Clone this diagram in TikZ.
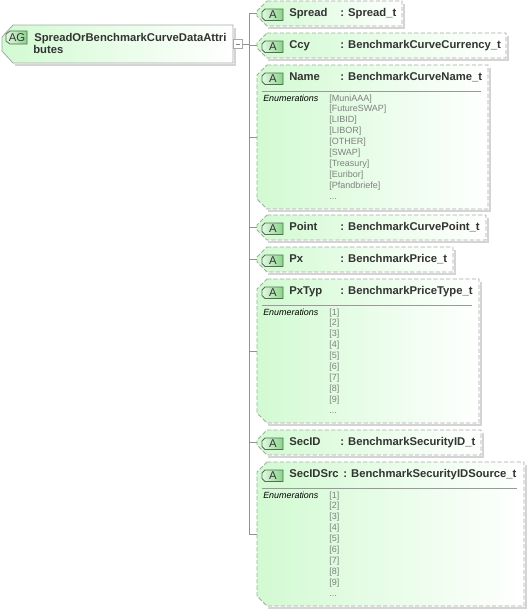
\documentclass[tikz,border=0pt]{standalone}
\usepackage{fontspec}
\setmainfont{Liberation Sans}
\usetikzlibrary{fit}
\definecolor{fillgreen}{HTML}{D2FAD2}
\definecolor{midgreen}{HTML}{F0FDF0}
\definecolor{edgegray}{HTML}{A8A8A8}
\definecolor{shadowgray}{HTML}{D4D4D4}
\definecolor{textdark}{HTML}{333333}
\definecolor{enumgray}{HTML}{808080}
\definecolor{badgeedge}{HTML}{4F6F4F}
\definecolor{badgeleft}{HTML}{E4F8E4}
\definecolor{badgeright}{HTML}{88D488}
\tikzset{
  x=0.75pt,y=-0.75pt,
  hook/.style={inner sep=0pt,outer sep=0pt,fit={#1}},
  wire/.style={draw=gray!85,line width=0.6pt},
  boxfill/.style={left color=fillgreen,middle color=midgreen,right color=white},
  badgefill/.style={left color=badgeleft,right color=badgeright,draw=badgeedge,line width=0.6pt},
  titletext/.style={anchor=base west,inner sep=0pt,font=\fontsize{8.45}{10}\selectfont\bfseries,text=textdark},
  enumheadtext/.style={anchor=base west,inner sep=0pt,font=\fontsize{6.7}{8}\selectfont\itshape,text=black},
  enumval/.style={anchor=base west,inner sep=0pt,font=\fontsize{6.75}{8}\selectfont,text=enumgray},
  badgetext/.style={anchor=center,inner sep=0pt,font=\fontsize{8.5}{10}\selectfont,text=textdark},
}
% #1 name, #2 x1, #3 y1, #4 x2, #5 y2, #6 label, #7 type, #8 type x
\newcommand{\attrbox}[8]{%
  \node[hook={(#2,#3)(#4,#5)}] (#1) {};
  \draw[shadowgray,line width=0.9pt] (#4+2,#3+3) -- (#4+2,#5+2) -- (#2+11,#5+2);
  \path[boxfill]
    (#2+10,#3) -- (#4,#3) -- (#4,#5) -- (#2+10,#5) -- (#2,#5-10) -- (#2,#3+10) -- cycle;
  \draw[edgegray,dash pattern=on 3.2pt off 1.6pt,line width=0.65pt]
    (#2+10,#3) -- (#4,#3) -- (#4,#5) -- (#2+10,#5) -- (#2,#5-10) -- (#2,#3+10) -- cycle;
  \path[badgefill]
    (#2+8,#3+8) -- (#2+26,#3+8) -- (#2+26,#3+19.5) -- (#2+8,#3+19.5) -- (#2+5,#3+16.5) -- (#2+5,#3+11) -- cycle;
  \node[badgetext] (#1-badge) at (#2+16,#3+13.7) {A};
  \node[titletext] (#1-label) at (#2+32,#3+15.7) {#6};
  \node[titletext] (#1-type) at (#8,#3+15.7) {: #7};
}
% #1 name, #2 x1, #3 x2, #4 top y
\newcommand{\enumblock}[4]{%
  \draw[gray!80,line width=0.6pt] (#2+5,#4+26) -- (#3-7,#4+26);
  \node[enumheadtext] (#1-enum) at (#2+6,#4+36) {Enumerations};
}
\begin{document}
\begin{tikzpicture}
\useasboundingbox (0,0) rectangle (528,611);
\path[fill=white] (0,0) rectangle (528,611);
% root
\node[hook={(2,25)(233,63)}] (root) {};
\draw[shadowgray,line width=2pt] (235,28) -- (235,65) -- (15,65);
\path[boxfill,draw=edgegray,line width=0.6pt]
  (13,25) -- (233,25) -- (233,63) -- (13,63) -- (2,51) -- (2,37) -- cycle;
\path[badgefill]
  (10,31) -- (27,31) -- (27,44) -- (10,44) -- (6,41) -- (6,34) -- cycle;
\node[badgetext] (root-badge) at (17,38) {AG};
\node[titletext] (root-l1) at (34,41) {SpreadOrBenchmarkCurveDataAttri};
\node[titletext] (root-l2) at (33,53) {butes};
\node[draw=edgegray,fill=white,inner sep=0pt,minimum width=6.4pt,minimum height=6.2pt,line width=0.6pt] (minus) at (238,44) {};
\draw[gray,line width=0.5pt] (236,44) -- (240,44);
% attribute boxes
\attrbox{spread}{257}{1}{402}{26}{Spread}{Spread\_t}{340}
\attrbox{ccy}{257}{33}{506}{58}{Ccy}{BenchmarkCurveCurrency\_t}{340}
\attrbox{name}{257}{65}{488}{209}{Name}{BenchmarkCurveName\_t}{340}
\attrbox{point}{257}{215}{486}{240}{Point}{BenchmarkCurvePoint\_t}{340}
\attrbox{px}{257}{247}{453}{272}{Px}{BenchmarkPrice\_t}{340}
\attrbox{pxtyp}{257}{279}{479}{423}{PxTyp}{BenchmarkPriceType\_t}{340}
\attrbox{secid}{257}{430}{481}{455}{SecID}{BenchmarkSecurityID\_t}{340}
\attrbox{secidsrc}{257}{462}{524}{606}{SecIDSrc}{BenchmarkSecurityIDSource\_t}{343}
% enumerations
\enumblock{name}{257}{488}{65}
\foreach \enumtxt [count=\i from 0] in {[MuniAAA],[FutureSWAP],[LIBID],[LIBOR],[OTHER],[SWAP],[Treasury],[Euribor],[Pfandbriefe]}
  \node[enumval] (name-v\i) at (329,101+10.95*\i) {\enumtxt};
\node[enumval] (name-more) at (329,199.5) {...};
\enumblock{pxtyp}{257}{479}{279}
\foreach \enumtxt [count=\i from 0] in {[1],[2],[3],[4],[5],[6],[7],[8],[9]}
  \node[enumval] (pxtyp-v\i) at (329,315+10.95*\i) {\enumtxt};
\node[enumval] (pxtyp-more) at (329,413.5) {...};
\enumblock{src}{257}{524}{462}
\foreach \enumtxt [count=\i from 0] in {[1],[2],[3],[4],[5],[6],[7],[8],[9]}
  \node[enumval] (src-v\i) at (329,498+10.95*\i) {\enumtxt};
\node[enumval] (src-more) at (329,596.5) {...};
% connectors
\coordinate (hub) at (249,44);
\draw[wire] (minus.east) -- (hub);
\draw[wire] (hub) |- (spread.west);
\draw[wire] (hub) |- (ccy.west);
\draw[wire] (hub) |- (name.west);
\draw[wire] (hub) |- (point.west);
\draw[wire] (hub) |- (px.west);
\draw[wire] (hub) |- (pxtyp.west);
\draw[wire] (hub) |- (secid.west);
\draw[wire] (hub) |- (secidsrc.west);
\end{tikzpicture}
\end{document}
